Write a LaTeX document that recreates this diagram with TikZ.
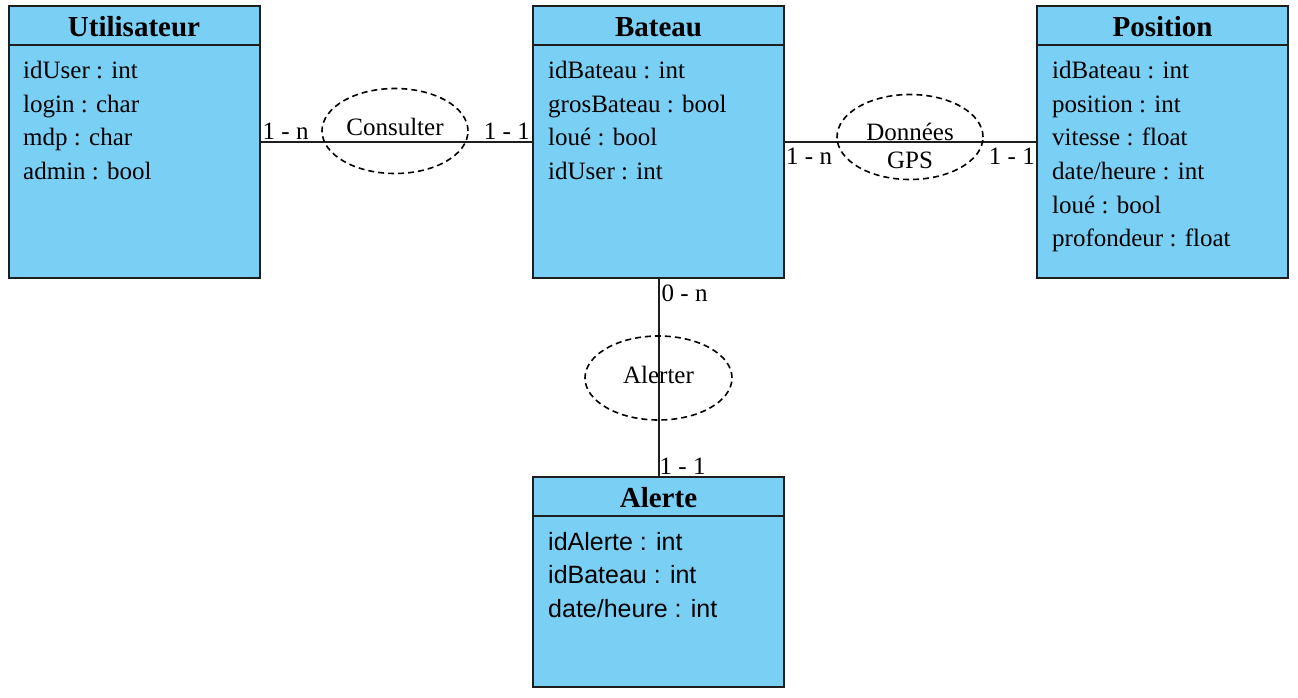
\documentclass[tikz,border=0pt]{standalone}
\usepackage{fontspec}
\setmainfont{Liberation Serif}
\newfontfamily\alertfont{Liberation Sans}
\usetikzlibrary{shapes.geometric}
\definecolor{entityblue}{RGB}{122,207,245}
\definecolor{edgegray}{RGB}{30,30,30}

\begin{document}
\begin{tikzpicture}[x=1pt,y=-1pt,
  font=\fontsize{25}{30}\selectfont,
  entity/.style={draw=edgegray,line width=2pt,fill=entityblue,minimum width=251pt,minimum height=272pt,inner sep=0pt},
  title/.style={font=\fontsize{29}{34}\selectfont\bfseries,inner sep=0pt},
  attr/.style={anchor=base west,inner sep=0pt},
  assoc/.style={ellipse,draw=black,line width=1.6pt,dash pattern=on 6pt off 4pt,minimum width=146pt,minimum height=85pt,inner sep=0pt},
  link/.style={draw=edgegray,line width=2pt},
  card/.style={inner sep=2pt}]
\useasboundingbox (0,0) rectangle (1298,698);
\def\headh{40pt}

% entities
\node[entity] (util) at (134,142) {};
\node[entity] (bateau) at (658.5,142) {};
\node[entity] (pos) at (1162.5,142) {};
\node[entity,minimum height=210pt] (alerte) at (658.5,582) {};
\foreach \e in {util,bateau,pos,alerte}
  \draw[link] ([yshift=-\headh]\e.north west) -- ([yshift=-\headh]\e.north east);

\node[title] (util-title) at (134,27) {Utilisateur};
\node[title] (bateau-title) at (658.5,27) {Bateau};
\node[title] (pos-title) at (1162.5,27) {Position};
\node[title] (alerte-title) at (658.5,498) {Alerte};

\foreach \a [count=\i] in {idUser : int,login : char,mdp : char,admin : bool}
  \node[attr] (util-\i) at (23,45.5+33.5*\i) {\a};
\foreach \a [count=\i] in {idBateau : int,grosBateau : bool,loué : bool,idUser : int}
  \node[attr] (bateau-\i) at (548,45.5+33.5*\i) {\a};
\foreach \a [count=\i] in {idBateau : int,position : int,vitesse : float,date/heure : int,loué : bool,profondeur : float}
  \node[attr] (pos-\i) at (1052,45.5+33.5*\i) {\a};
\foreach \a [count=\i] in {idAlerte : int,idBateau : int,date/heure : int}
  \node[attr,font=\fontsize{25}{30}\alertfont] (alerte-\i) at (548,516.5+33.5*\i) {\a};

% associations
\draw[link] (util.east) -- (bateau.west);
\draw[link] (bateau.east) -- (pos.west);
\draw[link] (bateau.south) -- (alerte.north);

\node[assoc] (consulter) at (395,131) {};
\node (consulter-text) at (395,127) {Consulter};
\node[assoc] (gps) at (910,137) {};
\node[align=center,font=\fontsize{25}{28}\selectfont] (gps-text) at (910,146) {Données\\GPS};
\node[assoc,minimum width=147pt,minimum height=84pt] (alerter) at (658.5,378) {};
\node (alerter-text) at (658.5,375) {Alerter};

% cardinalities
\node[card,anchor=south west] (c-util) at (util.east) {1 - n};
\node[card,anchor=south east] (c-bateau) at (bateau.west) {1 - 1};
\node[card,anchor=north west,inner xsep=1pt,inner ysep=6pt] (c-bateau-gps) at (bateau.east) {1 - n};
\node[card,anchor=north east,inner xsep=1pt,inner ysep=6pt] (c-pos) at (pos.west) {1 - 1};
\node[card,anchor=north west,inner xsep=3pt,inner ysep=6pt] (c-bateau-alerte) at (bateau.south) {0 - n};
\node[card,anchor=south west,inner sep=1pt] (c-alerte) at (alerte.north) {1 - 1};
\end{tikzpicture}
\end{document}
